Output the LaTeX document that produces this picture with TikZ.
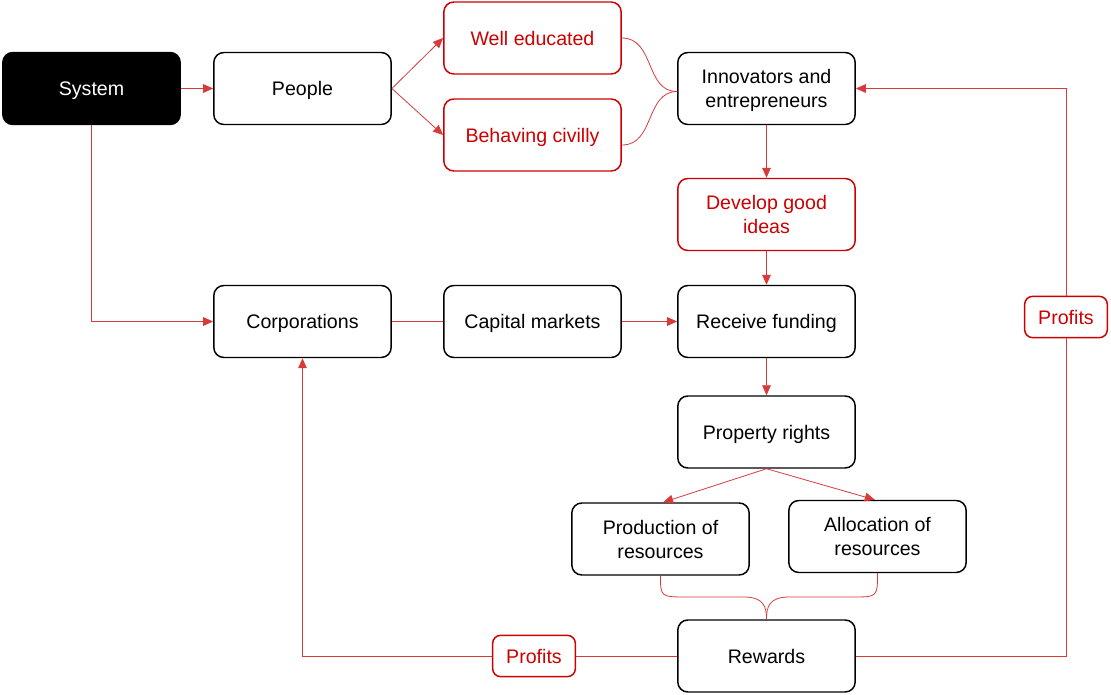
\documentclass[tikz,border=0pt]{standalone}
\usepackage{fontspec}
\setmainfont{Liberation Sans}
\usetikzlibrary{arrows.meta}
\definecolor{rd}{HTML}{CC0000}
\definecolor{ln}{HTML}{D83A3A}
\begin{document}
\begin{tikzpicture}[x=0.75pt,y=-0.75pt,
 box/.style={draw=black,line width=1.1pt,rounded corners=7.5pt,minimum width=133pt,minimum height=54pt,align=center,font=\fontsize{14.7}{18}\selectfont,inner sep=2pt,text depth=0pt},
 rbox/.style={box,draw=rd,text=rd},
 tag/.style={draw=rd,text=rd,line width=1.1pt,rounded corners=6pt,minimum width=62pt,minimum height=31pt,font=\fontsize{14.7}{17}\selectfont,fill=white,inner sep=2pt,text depth=0pt},
 conn/.style={draw=ln,line width=0.6pt},
 arr/.style={conn,-{Triangle[length=7.5pt,width=6.5pt]}}]
\useasboundingbox (0,0) rectangle (1111,694);

\node[box,fill=black,text=white] (sys) at (91.5,88.5) {System};
\node[box] (people) at (302.5,88.5) {People};
\node[rbox] (well) at (532.5,38) {Well educated};
\node[rbox] (civil) at (532.5,135) {Behaving civilly};
\node[box] (innov) at (766.5,88.5) {Innovators and\\entrepreneurs};
\node[rbox] (ideas) at (766.5,214.5) {Develop good\\ideas};
\node[box] (corp) at (302.5,321.5) {Corporations};
\node[box] (cap) at (532.5,321.5) {Capital markets};
\node[box] (fund) at (766.5,321.5) {Receive funding};
\node[box] (prop) at (766.5,432) {Property rights};
\node[box] (prod) at (660.5,539) {Production of\\resources};
\node[box] (alloc) at (877.5,536.5) {Allocation of\\resources};
\node[box] (rew) at (766.5,656) {Rewards};
\node[tag] (profR) at (1066,317) {Profits};
\node[tag] (profB) at (534,656) {Profits};

\draw[arr] (sys.east) -- (people.west);
\draw[arr] (sys.south) |- (corp.west);
\draw[arr] (people.east) -- (well.west);
\draw[arr] (people.east) -- (civil.west);
\draw[conn] (well.east) .. controls (655,38) and (645,92) .. ([yshift=-2.2pt]innov.west);
\draw[conn] ([yshift=-7.5pt]civil.east) .. controls (655,145) and (645,92) .. ([yshift=-2.2pt]innov.west);
\draw[arr] (innov.south) -- (ideas.north);
\draw[arr] (ideas.south) -- (fund.north);
\draw[conn] (corp.east) -- (cap.west);
\draw[arr] (cap.east) -- (fund.west);
\draw[arr] (fund.south) -- (prop.north);
\draw[arr] (prop.south) -- ([xshift=2pt]prod.north);
\draw[arr] (prop.south) -- ([xshift=-2pt]alloc.north);
\draw[conn] (prod.south) .. controls (660.5,597) .. (688,597) -- (744,597)
  .. controls (764,597) and (766.5,607) .. (rew.north);
\draw[conn] (alloc.south) .. controls (877.5,597) .. (852,597) -- (789,597)
  .. controls (769,597) and (766.5,607) .. (rew.north);
\draw[conn] (rew.west) -- (profB.east);
\draw[arr] (profB.west) -| (corp.south);
\draw[conn] (rew.east) -| (profR.south);
\draw[arr] (profR.north) |- (innov.east);
\end{tikzpicture}
\end{document}
